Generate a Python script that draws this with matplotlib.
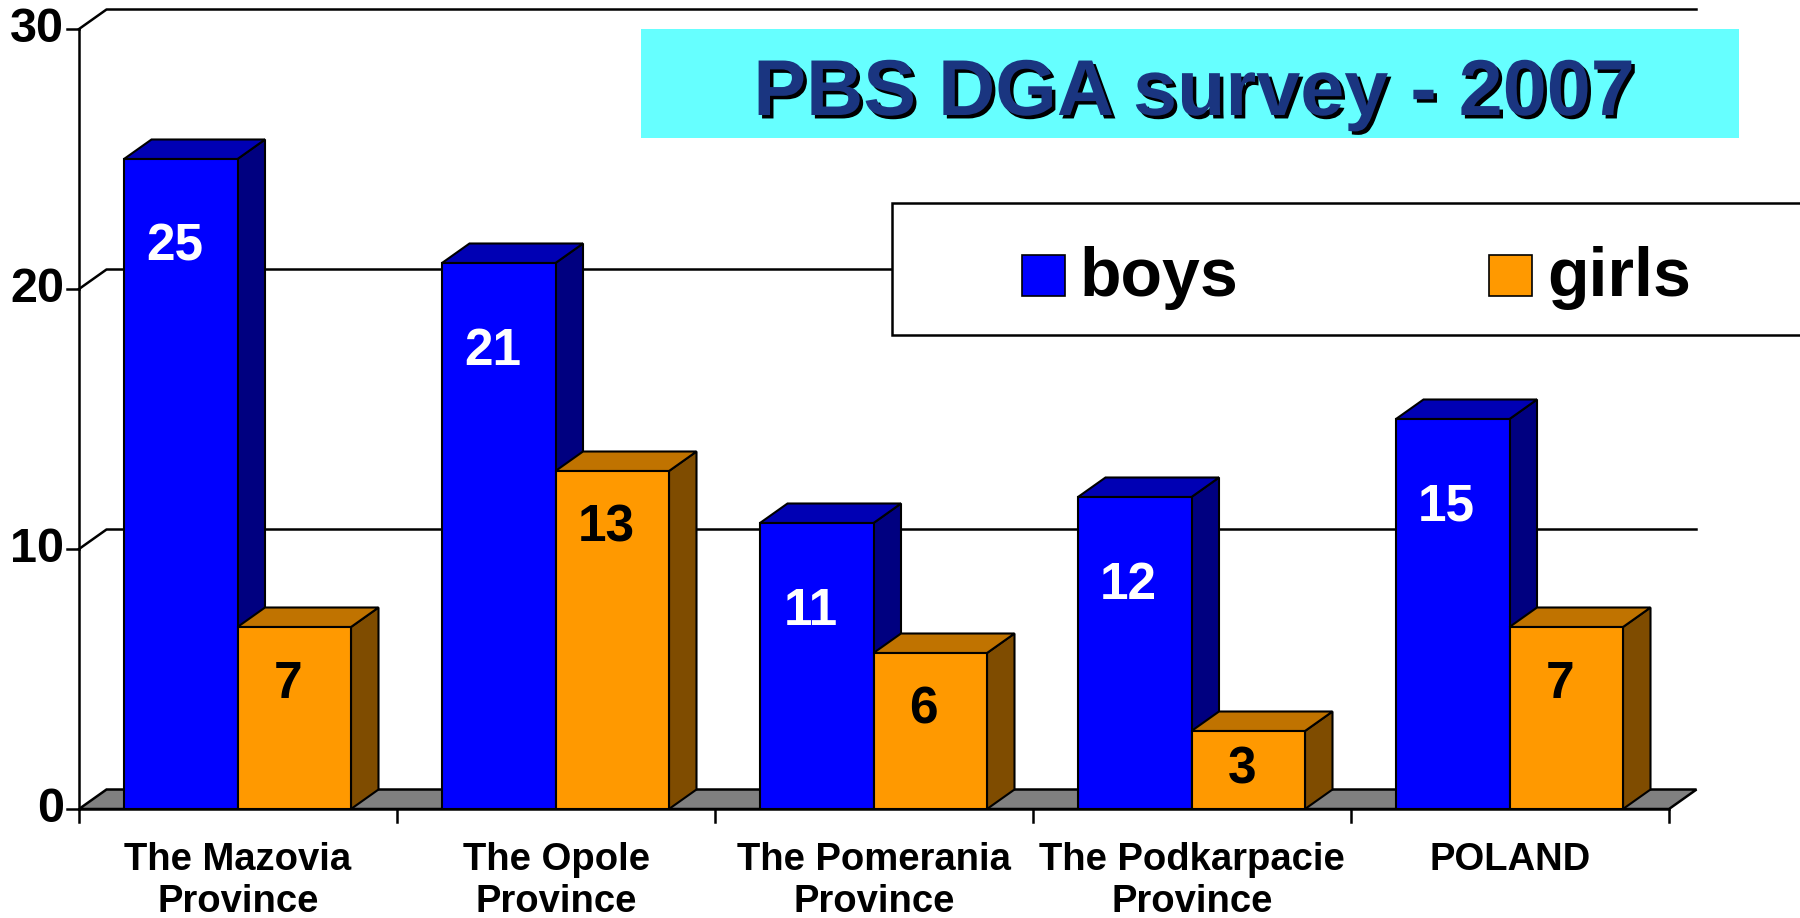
#Imports
import matplotlib
matplotlib.use("Agg")
import matplotlib.pyplot as plt
from matplotlib.patches import Polygon, Rectangle
import matplotlib.patheffects as pe

#Chart data
categories = ["The Mazovia\nProvince", "The Opole\nProvince", "The Pomerania\nProvince",
              "The Podkarpacie\nProvince", "POLAND"]
boys = [25, 21, 11, 12, 15]
girls = [7, 13, 6, 3, 7]
yticks = [0, 10, 20, 30]
titleText = "PBS DGA survey - 2007"
seriesNames = ["boys", "girls"]

plt.rcParams["font.family"] = ["Liberation Sans", "DejaVu Sans"]
plt.rcParams["font.weight"] = "bold"

W, H = 1800, 918
fig = plt.figure(figsize=(W / 100, H / 100), dpi=100)

#Axes laid out so one category = 318 px, one unit = 26 px
ax = fig.add_axes([79 / W, 109 / H, 1721 / W, 809 / H])
ax.set_xlim(0, 1721 / 318)
ax.set_ylim(0, 809 / 26)
ax.axis("off")

dx = 27.5 / 318   #depth offset in category units
dy = 19.5 / 26    #depth offset in value units
nCat = len(categories)
lw = 1.8

#Back wall gridlines with the left wall edge
for t in yticks[1:]:
    ax.plot([0, dx, nCat + dx], [t, t + dy, t + dy], color="black", lw=lw, zorder=1, clip_on=False)

#Floor
ax.add_patch(Polygon([(0, 0), (nCat, 0), (nCat + dx, dy), (dx, dy)], closed=True,
                     facecolor="#808080", edgecolor="black", lw=lw, zorder=2))

#Axis lines and ticks
ax.plot([0, 0], [0, yticks[-1]], color="black", lw=lw, zorder=2, clip_on=False)
ax.plot([0, nCat], [0, 0], color="black", lw=lw, zorder=2, clip_on=False)
for t in yticks:
    ax.plot([-12 / 318, 0], [t, t], color="black", lw=lw, clip_on=False)
    ax.text(-15 / 318, t, str(t), ha="right", va="center", fontsize=35, fontweight="bold")
for i in range(nCat + 1):
    ax.plot([i, i], [0, -13 / 26], color="black", lw=lw, clip_on=False)
for i, name in enumerate(categories):
    ax.text(i + 0.5, -33 / 26, name, ha="center", va="top", fontsize=27.5,
            fontweight="bold", linespacing=1.22)

#3D-looking bar
def bar3d(x0, width, v, front, top, side, z):
    x1 = x0 + width
    ax.add_patch(Polygon([(x1, 0), (x1 + dx, dy), (x1 + dx, v + dy), (x1, v)], closed=True,
                         facecolor=side, edgecolor="black", lw=1.5, zorder=z))
    ax.add_patch(Polygon([(x0, v), (x1, v), (x1 + dx, v + dy), (x0 + dx, v + dy)], closed=True,
                         facecolor=top, edgecolor="black", lw=1.5, zorder=z))
    ax.add_patch(Rectangle((x0, 0), width, v, facecolor=front, edgecolor="black", lw=1.5, zorder=z))

gap = 45 / 318
bw = 113.5 / 318
for i in range(nCat):
    bar3d(i + gap, bw, boys[i], "#0000FF", "#0000B4", "#000080", 3 + 2 * i)
    bar3d(i + gap + bw, bw, girls[i], "#FF9900", "#C07300", "#7F4C00", 4 + 2 * i)
    ax.text(i + gap + bw / 2 - 0.02, boys[i] - min(3.4, boys[i] / 2), str(boys[i]),
            ha="center", va="center", fontsize=37, fontweight="bold", color="white", zorder=20)
    ax.text(i + gap + 1.5 * bw - 0.02, girls[i] - min(2.2, girls[i] / 2), str(girls[i]),
            ha="center", va="center", fontsize=37, fontweight="bold", color="black", zorder=20)

#Title box
fig.patches.append(Rectangle((641 / W, 1 - 138 / H), 1098 / W, 109 / H, transform=fig.transFigure,
                             facecolor="#66FFFF", edgecolor="none", zorder=30))
fig.text(1194 / W, 1 - 115 / H, titleText, ha="center", va="baseline", fontsize=57,
         fontweight="bold", color="#1A3580", zorder=31,
         path_effects=[pe.withSimplePatchShadow(offset=(2.5, -2.5), shadow_rgbFace="black", alpha=1)])

#Legend box
fig.patches.append(Rectangle((892 / W, 1 - 335 / H), 1000 / W, 132 / H, transform=fig.transFigure,
                             facecolor="white", edgecolor="black", lw=lw, zorder=30))
legendColors = ["#0000FF", "#FF9900"]
legendX = [1022, 1489]
for name, col, lx in zip(seriesNames, legendColors, legendX):
    fig.patches.append(Rectangle((lx / W, 1 - 296 / H), 43 / W, 41 / H, transform=fig.transFigure,
                                 facecolor=col, edgecolor="black", lw=1.2, zorder=31))
    fig.text((lx + 58) / W, 1 - 296 / H, name, ha="left", va="baseline", fontsize=49,
             fontweight="bold", color="black", zorder=31)

plt.savefig("out.png", dpi=100)
plt.close()
